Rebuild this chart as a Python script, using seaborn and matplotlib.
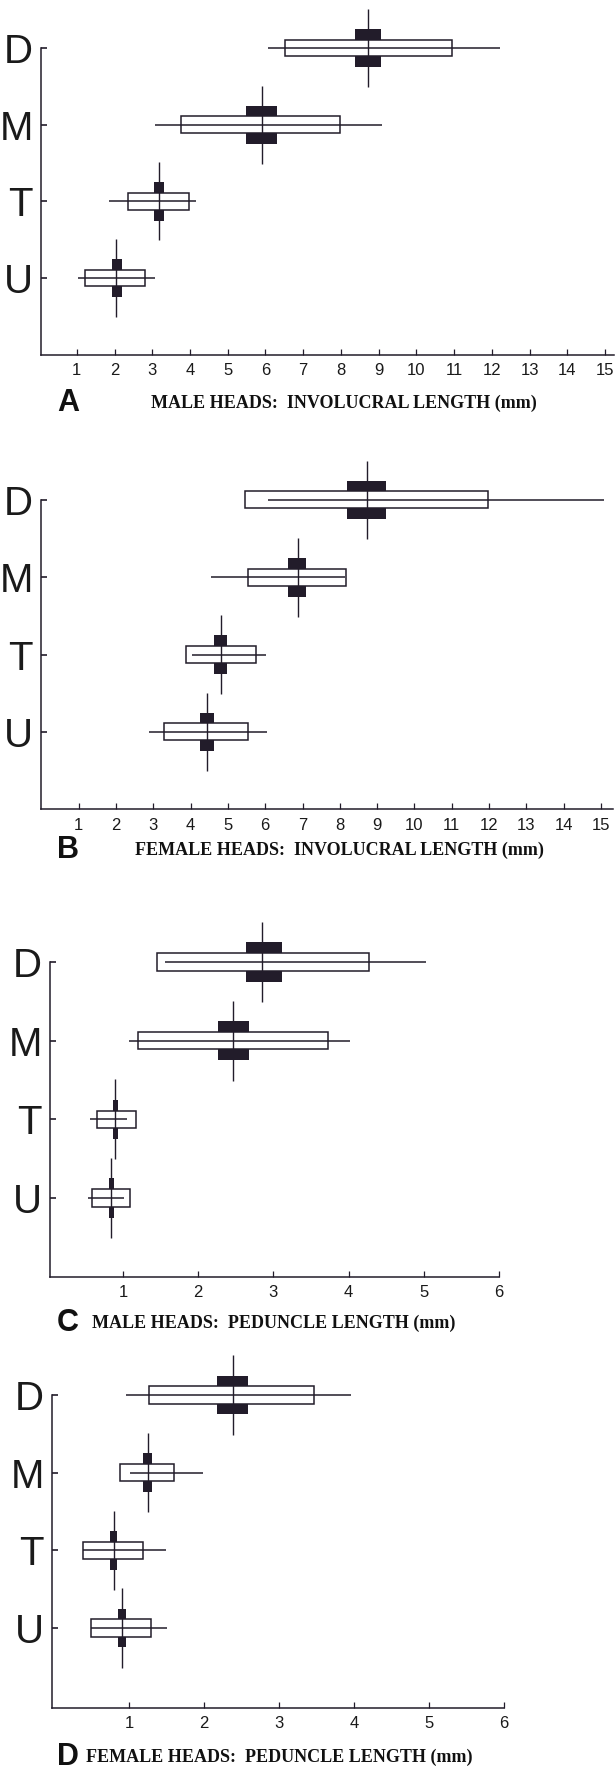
# Dice-Leraas style diagrams: involucral and peduncle length by head type

import numpy as np
import pandas as pd
import matplotlib
matplotlib.use("Agg")
import matplotlib.pyplot as plt
import seaborn as sns
from matplotlib import font_manager

# groups, top to bottom
groups = ["D", "M", "T", "U"]

# A. male heads, involucral length (mm)
a_min = [6.08, 3.08, 1.86, 1.03]
a_max = [12.23, 9.08, 4.16, 3.08]
a_sd_lo = [6.53, 3.77, 2.36, 1.22]
a_sd_hi = [10.95, 7.97, 3.98, 2.80]
a_mean = [8.71, 5.90, 3.17, 2.05]
a_ci_lo = [8.37, 5.49, 3.04, 1.94]
a_ci_hi = [9.07, 6.31, 3.30, 2.19]

# B. female heads, involucral length (mm)
b_min = [6.07, 4.55, 4.05, 2.89]
b_max = [15.07, 8.14, 6.03, 6.05]
b_sd_lo = [5.45, 5.53, 3.87, 3.28]
b_sd_hi = [11.98, 8.16, 5.74, 5.55]
b_mean = [8.74, 6.89, 4.82, 4.44]
b_ci_lo = [8.18, 6.61, 4.63, 4.26]
b_ci_hi = [9.23, 7.08, 4.98, 4.63]

# C. male heads, peduncle length (mm)
c_min = [1.56, 1.08, 0.56, 0.53]
c_max = [5.03, 4.02, 1.06, 1.02]
c_sd_lo = [1.45, 1.20, 0.65, 0.59]
c_sd_hi = [4.27, 3.73, 1.18, 1.10]
c_mean = [2.85, 2.46, 0.90, 0.84]
c_ci_lo = [2.64, 2.26, 0.87, 0.81]
c_ci_hi = [3.12, 2.68, 0.93, 0.88]

# D. female heads, peduncle length (mm)
d_min = [0.96, 1.01, 0.38, 0.49]
d_max = [3.96, 1.98, 1.49, 1.51]
d_sd_lo = [1.26, 0.88, 0.38, 0.49]
d_sd_hi = [3.47, 1.60, 1.18, 1.29]
d_mean = [2.39, 1.25, 0.80, 0.91]
d_ci_lo = [2.17, 1.19, 0.75, 0.85]
d_ci_hi = [2.59, 1.31, 0.84, 0.96]

ticks_long = list(range(1, 16))
ticks_short = list(range(1, 7))

# Style

sns.set_theme(style="ticks")
names = {f.name for f in font_manager.fontManager.ttflist}
narrow = "Liberation Sans Narrow" if "Liberation Sans Narrow" in names else "Liberation Sans"
plt.rcParams["font.family"] = [narrow, "DejaVu Sans"]

ink = "#221c2a"

fig = plt.figure(figsize=(6.16, 17.71), dpi=100)
W, H = 616, 1771


def dice(ax, vmin, vmax, sd_lo, sd_hi, mean, ci_lo, ci_hi, xlim, ylim, ticks):
    df = pd.DataFrame({
        "group": groups,
        "vmin": vmin, "vmax": vmax,
        "sd_lo": sd_lo, "sd_hi": sd_hi,
        "mean": mean, "ci_lo": ci_lo, "ci_hi": ci_hi,
    })
    df["y"] = np.arange(len(groups))[::-1]

    # solid block = confidence interval of the mean
    ax.barh(df["y"], df["ci_hi"] - df["ci_lo"], left=df["ci_lo"],
            height=0.5, color=ink, linewidth=0, zorder=1)
    # open box = one standard deviation
    ax.barh(df["y"], df["sd_hi"] - df["sd_lo"], left=df["sd_lo"],
            height=0.22, facecolor="white", edgecolor=ink,
            linewidth=1.1, zorder=2)
    # range line and mean line
    ax.hlines(df["y"], df["vmin"], df["vmax"], color=ink, lw=1.1, zorder=3)
    ax.vlines(df["mean"], df["y"] - 0.51, df["y"] + 0.51,
              color=ink, lw=1.0, zorder=3)

    ax.set_xlim(*xlim)
    ax.set_ylim(*ylim)
    ax.set_yticks(df["y"])
    ax.set_yticklabels(df["group"])
    ax.set_xticks(ticks)
    ax.set_xticklabels([str(t) for t in ticks])
    ax.set_xlabel("")
    ax.set_ylabel("")

    sns.despine(ax=ax)
    ax.spines["left"].set_bounds(ylim[0], 3)
    for s in ["left", "bottom"]:
        ax.spines[s].set_color(ink)
        ax.spines[s].set_linewidth(1.1)
    ax.tick_params(axis="x", direction="in", length=4, width=0.9,
                   color=ink, pad=6, labelsize=12, labelcolor="#1a1a1a")
    ax.tick_params(axis="y", direction="in", length=4, width=1.2,
                   color=ink, pad=6, labelsize=29, labelcolor="#1a1a1a")
    ax.set_facecolor("white")


def add_axes(left_px, right_px, top_px, bottom_px):
    return fig.add_axes([left_px / W, 1 - bottom_px / H,
                         (right_px - left_px) / W, (bottom_px - top_px) / H])


ax_a = add_axes(41, 614, 0.5, 354.7)
dice(ax_a, a_min, a_max, a_sd_lo, a_sd_hi, a_mean, a_ci_lo, a_ci_hi,
     (0.05, 15.24), (-1, 3.62), ticks_long)

ax_b = add_axes(41, 613, 452, 809.3)
dice(ax_b, b_min, b_max, b_sd_lo, b_sd_hi, b_mean, b_ci_lo, b_ci_hi,
     (-0.01, 15.32), (-1, 3.62), ticks_long)

ax_c = add_axes(50, 499, 918.7, 1276.7)
dice(ax_c, c_min, c_max, c_sd_lo, c_sd_hi, c_mean, c_ci_lo, c_ci_hi,
     (0.03, 6.0), (-1, 3.55), ticks_short)

ax_d = add_axes(52, 504, 1352.3, 1708)
dice(ax_d, d_min, d_max, d_sd_lo, d_sd_hi, d_mean, d_ci_lo, d_ci_hi,
     (-0.03, 6.0), (-1.03, 3.55), ticks_short)

# Panel letters and captions

captions = [
    ("A", 403, 151, "MALE HEADS:  INVOLUCRAL LENGTH (mm)"),
    ("B", 850, 135, "FEMALE HEADS:  INVOLUCRAL LENGTH (mm)"),
    ("C", 1323, 92, "MALE HEADS:  PEDUNCLE LENGTH (mm)"),
    ("D", 1757, 86, "FEMALE HEADS:  PEDUNCLE LENGTH (mm)"),
]

for letter, y_px, x_px, text in captions:
    fig.text(68 / W, 1 - y_px / H, letter, ha="center", va="center",
             fontsize=22, fontweight="bold", color="#111111",
             family=["Liberation Sans", "DejaVu Sans"])
    fig.text(x_px / W, 1 - y_px / H, text, ha="left", va="center",
             fontsize=13, fontweight="bold", color="#111111",
             family=["Liberation Serif", "DejaVu Serif"])

fig.savefig("out.png", dpi=100, facecolor="white")
